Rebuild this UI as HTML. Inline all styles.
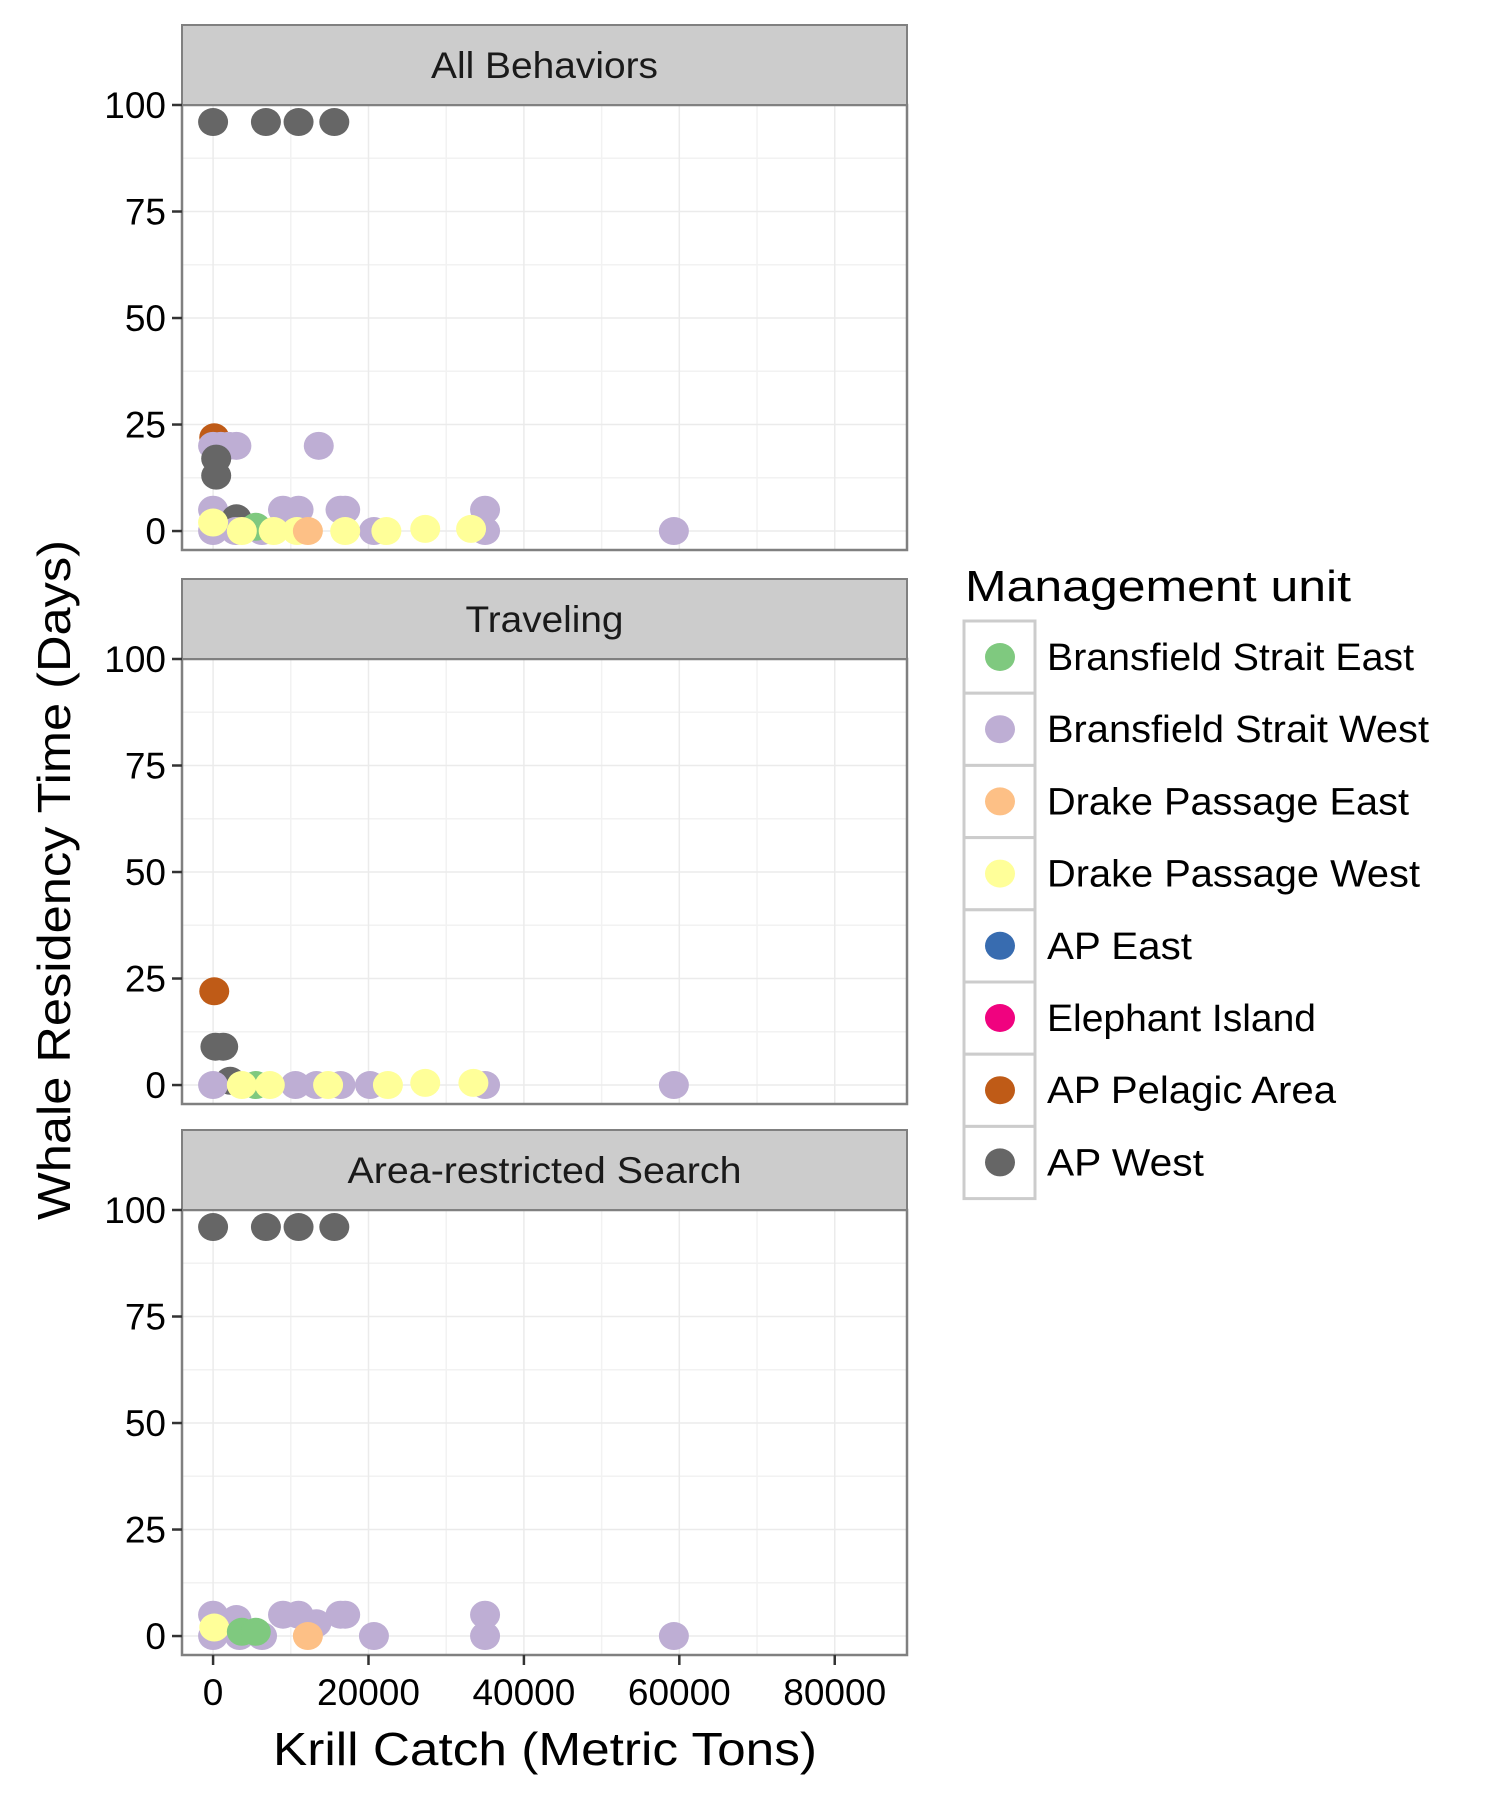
<!DOCTYPE html>
<html><head><meta charset="utf-8">
<style>
html,body{margin:0;padding:0;background:#fff;}
svg{display:block;font-family:"Liberation Sans",Arial,sans-serif;}
</style></head>
<body>
<svg id="chart" width="1500" height="1800" viewBox="0 0 1500 1800" xmlns="http://www.w3.org/2000/svg">
<rect width="1500" height="1800" fill="#fff"/>
<text x="0" y="0" transform="translate(70,880) rotate(-90)" text-anchor="middle" font-size="46" textLength="680" lengthAdjust="spacingAndGlyphs">Whale Residency Time (Days)</text>
<text x="545" y="1765" text-anchor="middle" font-size="46" textLength="544" lengthAdjust="spacingAndGlyphs">Krill Catch (Metric Tons)</text>
<g id="panels"></g>
<g id="legend"></g>
</svg>
<script>
const units = ["Bransfield Strait East","Bransfield Strait West","Drake Passage East","Drake Passage West","AP East","Elephant Island","AP Pelagic Area","AP West"];
const unitColors = ["#7FC97F","#BEAED4","#FDC086","#FFFF99","#386CB0","#F0027F","#BF5B17","#666666"];
const panelTitles = ["All Behaviors","Traveling","Area-restricted Search"];
const xTicks = [0,20000,40000,60000,80000];
const yTicks = [0,25,50,75,100];

// Panel 1: All Behaviors
const allX = [0,6800,11000,15600, 150, 0,1000,2000,3000,13600, 400,400, 0,9000,11000,16400,17000,35000, 3000, 0,20700,35000,59300,2900,6300, 5500, 0,3700,7800,10800,17000,22300,27300,33200, 12200];
const allY = [96,96,96,96, 22, 20,20,20,20,20, 17,13, 5,5,5,5,5,5, 3, 0,0,0,0,0,0, 1, 2,0,0,0,0,0,0.5,0.5, 0];
const allU = [7,7,7,7, 6, 1,1,1,1,1, 7,7, 1,1,1,1,1,1, 7, 1,1,1,1,1,1, 0, 3,3,3,3,3,3,3,3, 2];

// Panel 2: Traveling
const travX = [150, 300,1300, 2200, 0,10600,13300,16400,20200,35000,59300, 5500, 3700,7300,14800,22500,27300,33500];
const travY = [22, 9,9, 1, 0,0,0,0,0,0,0, 0, 0,0,0,0,0.5,0.5];
const travU = [6, 7,7, 7, 1,1,1,1,1,1,1, 0, 3,3,3,3,3,3];

// Panel 3: Area-restricted Search
const arsX = [0,6800,11000,15600, 0,3000,9000,11000,16400,17000,35000, 13300, 0,3400,6300,20700,35000,59300, 12200, 150, 3700,5500];
const arsY = [96,96,96,96, 5,4,5,5,5,5,5, 3, 0,0,0,0,0,0, 0, 2, 1,1];
const arsU = [7,7,7,7, 1,1,1,1,1,1,1, 1, 1,1,1,1,1,1, 2, 3, 0,0];

const panelXs = [allX, travX, arsX];
const panelYs = [allY, travY, arsY];
const panelUs = [allU, travU, arsU];

const NS = "http://www.w3.org/2000/svg";
const L = 182, R = 907;
const stripTops = [25, 579, 1130];
const xMin = -4000, xMax = 89300;
const yMin = -4.45, yMax = 100;
const PH = 445, SH = 80;
function xs(v){ return L + (v - xMin) / (xMax - xMin) * (R - L); }
function mk(tag, attrs, parent){
  const e = document.createElementNS(NS, tag);
  for (const k in attrs) e.setAttribute(k, attrs[k]);
  parent.appendChild(e);
  return e;
}
const panels = document.getElementById("panels");
for (let p = 0; p < 3; p++) {
  const st = stripTops[p], top = st + SH, bot = top + PH;
  const ys = v => bot - (v - yMin) / (yMax - yMin) * PH;
  const g = mk("g", {}, panels);
  
  
  mk("rect", {x:L, y:top, width:R-L, height:PH, fill:"#fff"}, g);
  for (let v = 10000; v < xMax; v += 20000) mk("line", {x1:xs(v), x2:xs(v), y1:top, y2:bot, stroke:"#F2F2F2", "stroke-width":1.5}, g);
  for (let v = 12.5; v < 100; v += 25) mk("line", {x1:L, x2:R, y1:ys(v), y2:ys(v), stroke:"#F2F2F2", "stroke-width":1.5}, g);
  xTicks.forEach(v => mk("line", {x1:xs(v), x2:xs(v), y1:top, y2:bot, stroke:"#EBEBEB", "stroke-width":1.5}, g));
  yTicks.forEach(v => mk("line", {x1:L, x2:R, y1:ys(v), y2:ys(v), stroke:"#EBEBEB", "stroke-width":1.5}, g));
  const X = panelXs[p], Y = panelYs[p], U = panelUs[p];
  for (let i = 0; i < X.length; i++) {
    const c = mk("ellipse", {cx:xs(X[i]), cy:ys(Y[i]), rx:15, ry:14, fill:unitColors[U[i]]}, g);
    
    
  }
  mk("rect", {x:L, y:top, width:R-L, height:PH, fill:"none", stroke:"#808080", "stroke-width":2.5}, g);
  const s = mk("rect", {x:L, y:st, width:R-L, height:SH, fill:"#CCCCCC", stroke:"#808080", "stroke-width":2}, g);
  
  
  const widths = [227, 158, 394];
  const t = mk("text", {x:(L+R)/2, y:st+SH/2+13, "text-anchor":"middle", "font-size":37, fill:"#1a1a1a", textLength:widths[p], lengthAdjust:"spacingAndGlyphs"}, g);
  t.textContent = panelTitles[p];
  
  
  yTicks.forEach(v => {
    mk("line", {x1:L-10, x2:L, y1:ys(v), y2:ys(v), stroke:"#333", "stroke-width":2.5}, g);
    const tl = mk("text", {x:L-16, y:ys(v)+13, "text-anchor":"end", "font-size":37, fill:"#000"}, g);
    tl.textContent = v;
    
    
  });
  if (p === 2) {
    xTicks.forEach(v => {
      mk("line", {x1:xs(v), x2:xs(v), y1:bot, y2:bot+10, stroke:"#333", "stroke-width":2.5}, g);
      const tl = mk("text", {x:xs(v), y:bot+50, "text-anchor":"middle", "font-size":37, fill:"#000"}, g);
      tl.textContent = v;
      
      
    });
  }
}
const lg = document.getElementById("legend");
const lt = mk("text", {x:965, y:601, "font-size":44, fill:"#000", textLength:386, lengthAdjust:"spacingAndGlyphs"}, lg);
lt.textContent = "Management unit";


const legW = [367, 382, 362, 373, 145, 269, 289, 157];
for (let i = 0; i < units.length; i++) {
  const y0 = 621 + i * 72.2;
  const eg = mk("g", {}, lg);
  
  
  mk("rect", {x:964, y:y0, width:71, height:72.2, fill:"#fff", stroke:"#CCCCCC", "stroke-width":3}, eg);
  mk("ellipse", {cx:1000, cy:y0+36, rx:15, ry:14, fill:unitColors[i]}, eg);
  const tx = mk("text", {x:1047, y:y0+49, "font-size":38, fill:"#000", textLength:legW[i], lengthAdjust:"spacingAndGlyphs"}, eg);
  tx.textContent = units[i];
}
</script>
</body></html>
